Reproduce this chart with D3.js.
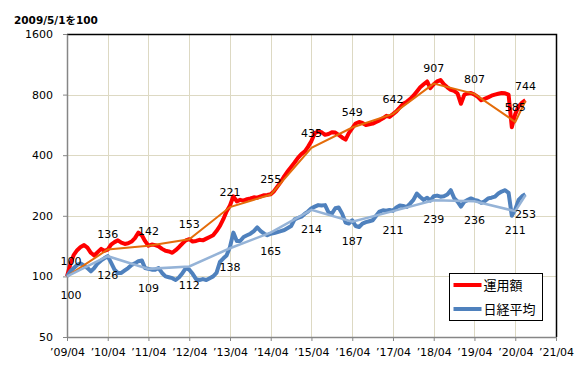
<!DOCTYPE html>
<html>
<head>
<meta charset="utf-8">
<script src="https://cdn.jsdelivr.net/npm/d3@7"></script>
<style>
  body { margin: 0; background: #fff; }
  svg text { font-family: "DejaVu Sans", "Noto Sans CJK JP", sans-serif; }
</style>
</head>
<body>
<svg id="chart" width="586" height="373"></svg>
<script>
// monthly values, first month = 2009/04 (2009/5/1 = 100)
var startMonth = "2009-04";

var unyougaku = [
  100,115,128,135,140,143,139,131,127,132,137,134,
  136,144,148,151,147,145,146,149,155,165,160,150,
  142,144,143,141,137,134,133,131,135,140,146,151,
  153,149,150,152,151,154,157,160,168,178,193,210,
  225,250,236,240,238,242,244,247,246,250,253,254,
  256,265,280,295,315,333,350,368,388,405,418,440,
  470,515,525,520,505,510,520,518,505,490,478,515,
  545,575,585,578,565,570,574,585,596,610,628,620,
  640,660,690,720,736,760,790,830,870,900,930,860,
  900,930,945,900,870,845,835,810,720,800,811,815,
  800,780,750,762,775,790,800,808,815,812,800,550,
  640,700,730,750
];

var nikkei = [
  100,106,110,114,116,113,110,106,110,116,120,123,
  126,117,108,104,104,107,110,114,116,119,120,110,
  109,108,108,110,104,100,99,98,96,99,104,110,
  108,103,97,96,97,96,98,100,104,118,123,127,
  140,165,150,150,157,160,163,168,175,168,163,160,
  163,164,166,168,170,174,178,192,195,198,205,210,
  218,222,226,225,226,208,205,218,220,205,185,183,
  190,178,176,183,186,188,190,200,210,213,212,214,
  212,220,225,224,221,230,240,258,248,240,246,238,
  250,252,249,250,255,268,245,235,222,235,240,244,
  240,238,232,236,244,246,249,258,264,268,260,200,
  215,240,250,256
];

// yearly checkpoints (April) and latest
var pointMonths = ["2009-04","2010-04","2011-04","2012-04","2013-04","2014-04","2015-04",
                   "2016-04","2017-04","2018-04","2019-04","2020-04","2020-07"];
var unyougakuPoints = [100,136,142,153,221,255,435,549,642,907,807,585,744];
var nikkeiPoints = [100,126,109,112,138,165,214,187,211,239,236,211,253];

var yTicks = [50,100,200,400,800,1600];
var xTickYears = [2009,2010,2011,2012,2013,2014,2015,2016,2017,2018,2019,2020,2021];
var legendNames = ["運用額","日経平均"];

var parseMonth = d3.timeParse("%Y-%m");
var svg = d3.select("#chart");

//plot area
var pLeft = 67, pRight = 556, pTop = 34, pBottom = 337;

var x = d3.scaleTime()
          .domain([new Date(2009,3,1), new Date(2021,3,1)])
          .range([pLeft, pRight]);
var y = d3.scaleLog()
          .domain([50,1600])
          .range([pBottom, pTop]);

var start = parseMonth(startMonth);
function monthly(values) {
  return values.map(function(v,i) { return {date: d3.timeMonth.offset(start,i), value: v}; });
}
function points(values) {
  return values.map(function(v,i) { return {date: parseMonth(pointMonths[i]), value: v}; });
}

//grid
var grid = svg.append("g").attr("id","grid");
grid.selectAll("line.v")
    .data(xTickYears.slice(1,-1))
    .enter().append("line")
    .attr("class","v")
    .attr("x1",function(d){ return Math.round(x(new Date(d,3,1)))+0.5; })
    .attr("x2",function(d){ return Math.round(x(new Date(d,3,1)))+0.5; })
    .attr("y1",pTop).attr("y2",pBottom)
    .attr("stroke","#ddd9c3").attr("stroke-width",1);
grid.selectAll("line.h")
    .data(yTicks.slice(1,-1))
    .enter().append("line")
    .attr("class","h")
    .attr("x1",pLeft).attr("x2",pRight)
    .attr("y1",function(d){ return Math.round(y(d))+0.5; })
    .attr("y2",function(d){ return Math.round(y(d))+0.5; })
    .attr("stroke","#ddd9c3").attr("stroke-width",1);

//border top / right
svg.append("path")
   .attr("d","M"+pLeft+","+(pTop+0.5)+"H"+(pRight+0.5)+"V"+pBottom)
   .attr("fill","none")
   .attr("stroke","#000")
   .attr("stroke-width",1.5);

//axes
var xAxis = d3.axisBottom(x)
              .tickValues(xTickYears.map(function(d){ return new Date(d,3,1); }))
              .tickFormat(d3.timeFormat("’%y/%m"))
              .tickSizeInner(4).tickSizeOuter(0).tickPadding(7);
var gx = svg.append("g")
            .attr("transform","translate(0,"+pBottom+")")
            .call(xAxis);
gx.select(".domain").attr("stroke","#868686").attr("stroke-width",1.5);
gx.selectAll(".tick line").attr("stroke","#868686");
gx.selectAll("text").attr("font-size",11).attr("fill","#000")
  .attr("font-family","DejaVu Sans");

var yAxis = d3.axisLeft(y)
              .tickValues(yTicks)
              .tickFormat(d3.format("d"))
              .tickSizeInner(4).tickSizeOuter(0).tickPadding(10);
var gy = svg.append("g")
            .attr("transform","translate("+pLeft+",0)")
            .call(yAxis);
gy.select(".domain").attr("stroke","#868686").attr("stroke-width",1.5);
gy.selectAll(".tick line").attr("stroke","#868686");
gy.selectAll("text").attr("font-size",11).attr("fill","#000")
  .attr("font-family","DejaVu Sans");

svg.append("text")
   .attr("x",14).attr("y",24)
   .attr("font-size",10.5)
   .attr("font-weight","bold")
   .text("2009/5/1を100");

//series
var line = d3.line()
             .x(function(d){ return x(d.date); })
             .y(function(d){ return y(d.value); });

svg.append("path")
   .datum(monthly(unyougaku))
   .attr("d",line)
   .attr("fill","none")
   .attr("stroke","#ff0000")
   .attr("stroke-width",4)
   .attr("stroke-linejoin","round");
svg.append("path")
   .datum(monthly(nikkei))
   .attr("d",line)
   .attr("fill","none")
   .attr("stroke","#4f81bd")
   .attr("stroke-width",4)
   .attr("stroke-linejoin","round");
svg.append("path")
   .datum(points(unyougakuPoints))
   .attr("d",line)
   .attr("fill","none")
   .attr("stroke","#e46c0a")
   .attr("stroke-width",2);
svg.append("path")
   .datum(points(nikkeiPoints))
   .attr("d",line)
   .attr("fill","none")
   .attr("stroke","#95b3d7")
   .attr("stroke-width",2.5);

//point labels: fund above, nikkei below
svg.append("g").selectAll("text")
   .data(points(unyougakuPoints))
   .enter().append("text")
   .attr("x",function(d,i){ return x(d.date) + (i==0 ? 4 : 0); })
   .attr("y",function(d){ return y(d.value) - 15; })
   .attr("dy","0.35em")
   .attr("text-anchor","middle")
   .attr("font-size",11)
   .text(function(d){ return d.value; });
svg.append("g").selectAll("text")
   .data(points(nikkeiPoints))
   .enter().append("text")
   .attr("x",function(d,i){ return x(d.date) + (i==0 ? 4 : 0); })
   .attr("y",function(d){ return y(d.value) + 19; })
   .attr("dy","0.35em")
   .attr("text-anchor","middle")
   .attr("font-size",11)
   .text(function(d){ return d.value; });

//legend
var legend = svg.append("g").attr("transform","translate(449.5,273.5)");
legend.append("rect")
      .attr("width",93).attr("height",47)
      .attr("fill","#fff").attr("stroke","#000").attr("stroke-width",1);
var legendColors = ["#ff0000","#4f81bd"];
legendNames.forEach(function(name,i) {
  legend.append("line")
        .attr("x1",4).attr("x2",32)
        .attr("y1",11.5+i*24).attr("y2",11.5+i*24)
        .attr("stroke",legendColors[i]).attr("stroke-width",4);
  legend.append("text")
        .attr("x",34).attr("y",11.5+i*24)
        .attr("dy","0.36em")
        .attr("font-size",13)
        .attr("font-family","Noto Sans CJK JP")
        .text(name);
});
</script>
</body>
</html>
